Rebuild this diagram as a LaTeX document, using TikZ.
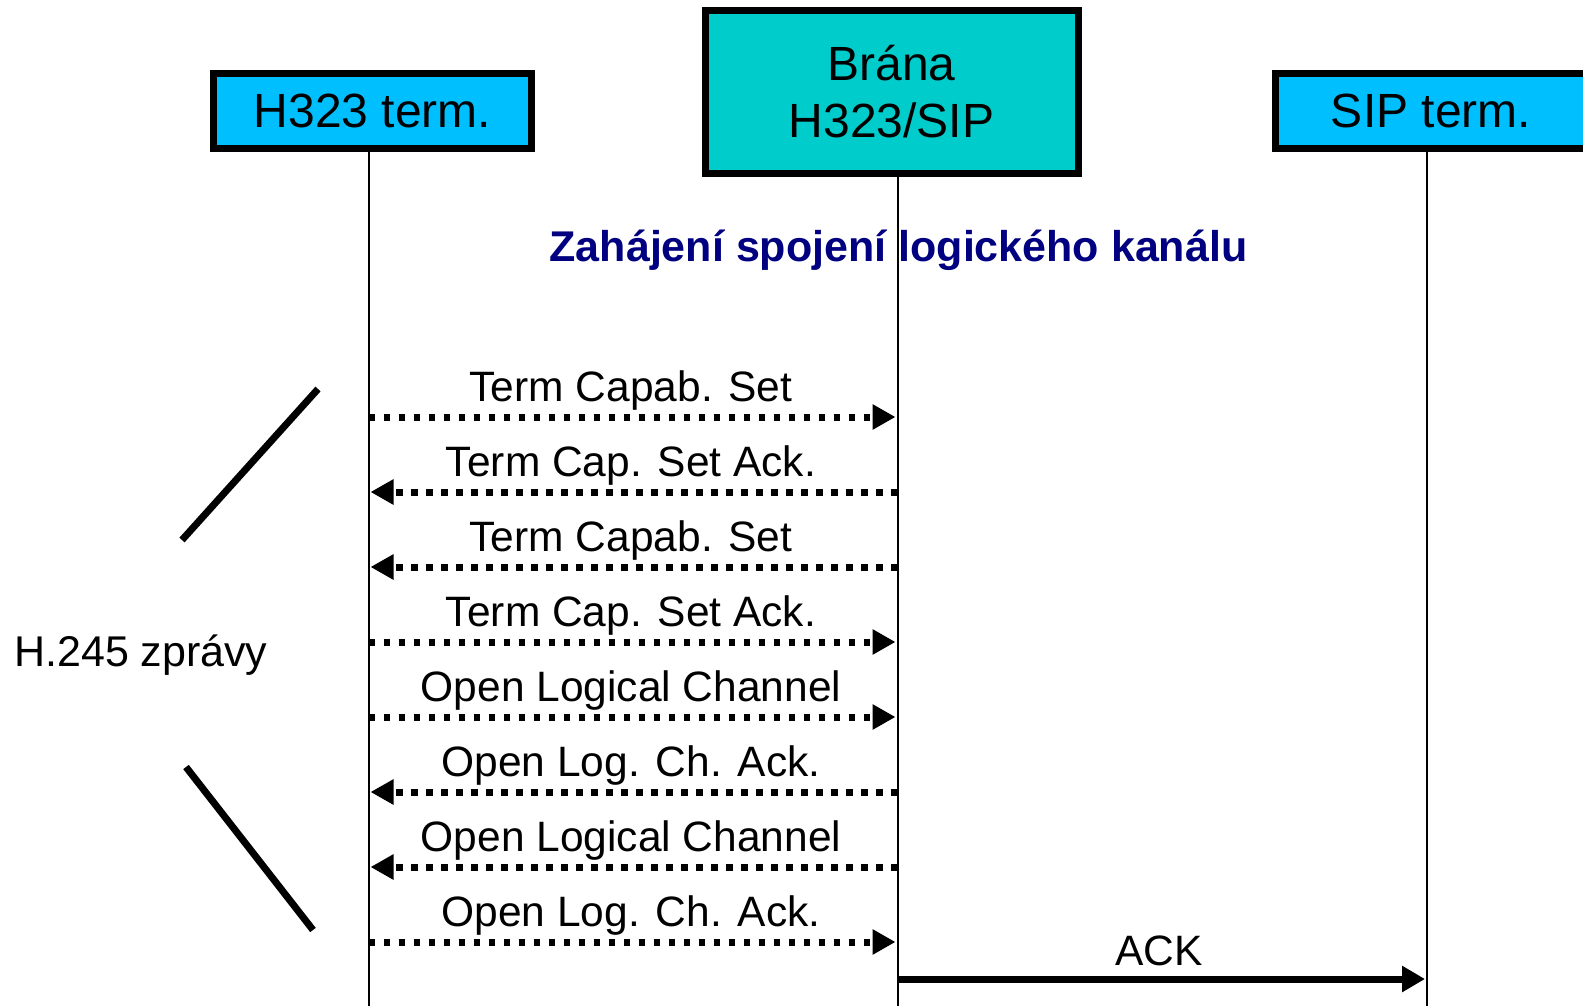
\documentclass[tikz,border=0pt]{standalone}
\usepackage{fontspec}
\setmainfont{Liberation Sans}
\usetikzlibrary{arrows.meta}
\definecolor{termblue}{HTML}{00BFFF}
\definecolor{gatecyan}{HTML}{00CCCC}
\definecolor{titlenavy}{HTML}{000080}
\tikzset{
  entity/.style={draw=black, line width=7pt, inner sep=0pt, outer sep=0pt,
    font=\fontsize{48}{57}\selectfont, align=center},
  lifeline/.style={draw=black, line width=2pt},
  msg/.style={line width=7pt, dash pattern=on 6.5pt off 8.5pt,
    -{Triangle[length=23pt,width=24pt]}, shorten >=2pt},
  sipmsg/.style={line width=7pt, -{Triangle[length=23pt,width=25pt]}, shorten >=2pt},
  msglabel/.style={font=\fontsize{42.5}{50}\selectfont, anchor=base, inner sep=0pt},
  brace/.style={line width=7pt},
}
\begin{document}
\begin{tikzpicture}[x=1pt, y=-1pt]
\useasboundingbox (0,0) rectangle (1583,1006);

% participants
\node[entity, fill=termblue, minimum width=318pt, minimum height=75pt,
      text height=34pt, text depth=0pt] (h323) at (372.5,111) {H323 term.};
\node[entity, fill=gatecyan, minimum width=373pt, minimum height=162.5pt] (gw) at (891.5,92) {Brána\\H323/SIP};
\node[entity, fill=termblue, minimum width=311pt, minimum height=75pt,
      text height=34pt, text depth=0pt] (sip) at (1431,111) {SIP term.};

% phase title
\node[font=\fontsize{43}{50}\selectfont\bfseries, text=titlenavy, anchor=base, inner sep=0pt]
  (title) at (898.5,261) {Zahájení spojení logického kanálu};

% lifelines
\coordinate (hA) at (368.5,152);
\coordinate (hB) at (368.5,1006);
\coordinate (gA) at (897.5,176);
\coordinate (gB) at (897.5,1006);
\coordinate (sA) at (1427,152);
\coordinate (sB) at (1427,1006);
\draw[lifeline] (hA) -- (hB);
\draw[lifeline] (gA) -- (gB);
\draw[lifeline] (sA) -- (sB);

% message rows
\coordinate (m1) at (0,417);
\coordinate (m2) at (0,492);
\coordinate (m3) at (0,567);
\coordinate (m4) at (0,642);
\coordinate (m5) at (0,717);
\coordinate (m6) at (0,792);
\coordinate (m7) at (0,867);
\coordinate (m8) at (0,942);
\coordinate (m9) at (0,979);

% H.245 exchange between terminal and gateway
\draw[msg] (hA |- m1) -- (gA |- m1);
\draw[msg] (gA |- m2) -- (hA |- m2);
\draw[msg] (gA |- m3) -- (hA |- m3);
\draw[msg] (hA |- m4) -- (gA |- m4);
\draw[msg] (hA |- m5) -- (gA |- m5);
\draw[msg] (gA |- m6) -- (hA |- m6);
\draw[msg] (gA |- m7) -- (hA |- m7);
\draw[msg] (hA |- m8) -- (gA |- m8);

\node[msglabel] (l1) at (631,401) {Term Capab. Set};
\node[msglabel] (l2) at (631,476) {Term Cap. Set Ack.};
\node[msglabel] (l3) at (631,551) {Term Capab. Set};
\node[msglabel] (l4) at (631,626) {Term Cap. Set Ack.};
\node[msglabel] (l5) at (631,701) {Open Logical Channel};
\node[msglabel] (l6) at (631,776) {Open Log. Ch. Ack.};
\node[msglabel] (l7) at (631,851) {Open Logical Channel};
\node[msglabel] (l8) at (631,926) {Open Log. Ch. Ack.};

% SIP side
\draw[sipmsg] (gA |- m9) -- (sA |- m9);
\node[msglabel] (l9) at (1159,965) {ACK};

% grouping marks for the H.245 messages
\coordinate (b1) at (318,389);
\coordinate (b2) at (182,540);
\coordinate (b3) at (186,767);
\coordinate (b4) at (313,930);
\draw[brace] (b1) -- (b2);
\draw[brace] (b3) -- (b4);
\node[font=\fontsize{43}{50}\selectfont, anchor=base west, inner sep=0pt] (h245) at (14,666) {H.245 zprávy};
\end{tikzpicture}
\end{document}
